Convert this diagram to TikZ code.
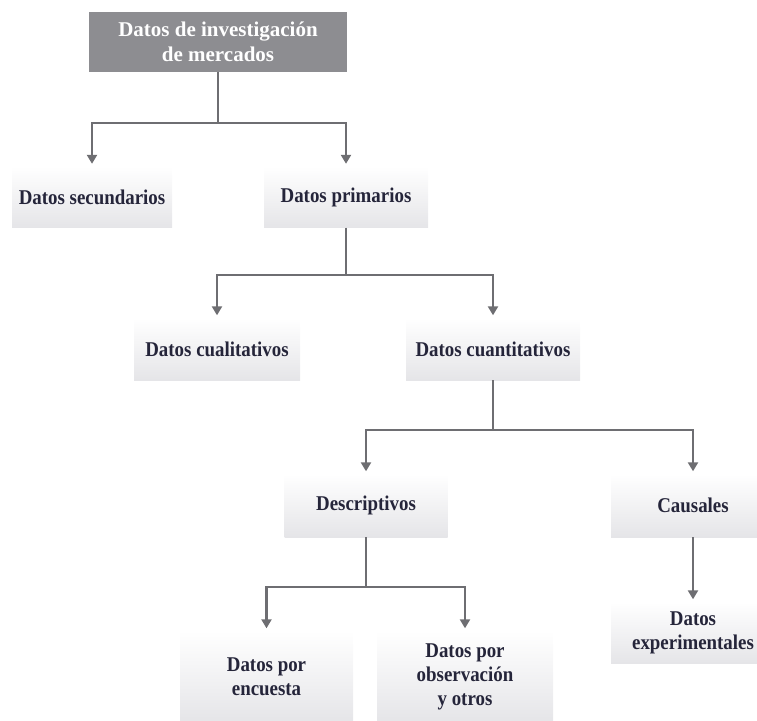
\documentclass[tikz,border=0pt]{standalone}
\usepackage{fontspec}
\setmainfont{Liberation Serif}
\newfontfamily\boxfont{Liberation Serif}[FakeStretch=0.9]
\usetikzlibrary{arrows.meta}
\definecolor{linegray}{HTML}{6E6E72}
\definecolor{topgray}{HTML}{8D8D91}
\definecolor{txt}{HTML}{25253A}
\definecolor{boxbot}{HTML}{E5E5E8}
\begin{document}
\begin{tikzpicture}[x=1pt,y=-1pt,
  box/.style={rectangle, inner sep=0pt, align=center, top color=white, bottom color=boxbot,
    text=txt, font=\boxfont\bfseries\fontsize{21}{24}\selectfont},
  topbox/.style={rectangle, inner sep=0pt, align=center, fill=topgray, text=white,
    font=\bfseries\fontsize{21}{25}\selectfont, minimum width=258pt, minimum height=60pt},
  ln/.style={draw=linegray, line width=2.3pt},
  arr/.style={ln, -{Triangle[width=10pt,length=9pt]}, shorten >=2.5pt}]
\useasboundingbox (0,0) rectangle (757,720);
\clip (0,0) rectangle (757,720);
% nodes
\node[topbox] (top) at (218,42) {Datos de investigación\\de mercados};
\node[box, minimum width=160pt, minimum height=61pt] (sec) at (92,197) {Datos secundarios};
\node[box, minimum width=164pt, minimum height=61pt] (prim) at (346,197) {Datos primarios};
\node[box, minimum width=166pt, minimum height=62pt] (cual) at (217,349) {Datos cualitativos};
\node[box, minimum width=174pt, minimum height=62pt] (cuant) at (493,349) {Datos cuantitativos};
\node[box, minimum width=163pt, minimum height=63pt] (desc) at (366,505.5) {Descriptivos};
\node[box, minimum width=164pt, minimum height=63pt] (caus) at (693,505.5) {Causales};
\node[box, minimum width=173pt, minimum height=91pt] (enc) at (266.5,676.5) {Datos por\\encuesta};
\node[box, minimum width=176pt, minimum height=91pt] (obs) at (465,676.5) {Datos por\\observación\\y otros};
\node[box, minimum width=164pt, minimum height=61pt] (exp) at (693,632.5) {Datos\\experimentales};
% junctions
\coordinate (j1) at (218,123);
\coordinate (j2) at (346,275);
\coordinate (j3) at (493,430);
\coordinate (j4) at (366,587);
% connectors
\draw[ln] (top) -- (j1);
\draw[arr] (j1) -| (sec);
\draw[arr] (j1) -| (prim);
\draw[ln] (prim) -- (j2);
\draw[arr] (j2) -| (cual);
\draw[arr] (j2) -| (cuant);
\draw[ln] (cuant) -- (j3);
\draw[arr] (j3) -| (desc);
\draw[arr] (j3) -| (caus);
\draw[ln] (desc) -- (j4);
\draw[arr] (j4) -| (enc);
\draw[arr] (j4) -| (obs);
\draw[arr] (caus) -- (exp);
\end{tikzpicture}
\end{document}
